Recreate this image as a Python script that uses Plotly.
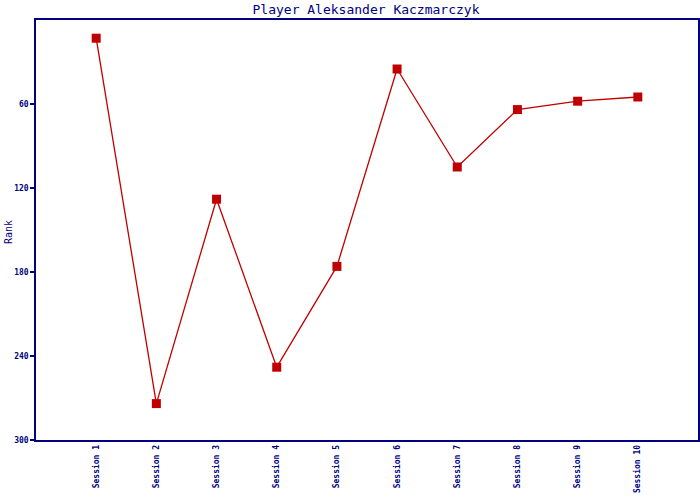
import plotly.graph_objects as go

sessions = ["Session 1", "Session 2", "Session 3", "Session 4", "Session 5",
            "Session 6", "Session 7", "Session 8", "Session 9", "Session 10"]
ranks = [13, 274, 128, 248, 176, 35, 105, 64, 58, 55]
y_ticks = [60, 120, 180, 240, 300]

navy = "#000080"
red = "#C00000"

fig = go.Figure(go.Scatter(
    x=sessions, y=ranks, mode="lines+markers",
    line=dict(color=red, width=1.3),
    marker=dict(symbol="square", size=9, color=red),
))

L, R, T, B = 36, 2, 20, 60
fig.update_layout(
    width=700, height=500,
    margin=dict(l=L, r=R, t=T, b=B, autoexpand=False),
    paper_bgcolor="white", plot_bgcolor="white",
    showlegend=False,
    font=dict(family="DejaVu Sans Mono", color=navy, size=8),
    title=dict(text="Player Aleksander Kaczmarczyk", x=366 / 700, xanchor="center",
               xref="container", yref="container",
               y=1 - 9 / 500, yanchor="middle",
               font=dict(family="DejaVu Sans Mono", size=13, color=navy)),
    xaxis=dict(type="category", range=[-1, 10], showgrid=False, zeroline=False,
               automargin=False,
               showline=True, linecolor=navy, linewidth=1.5, mirror=True,
               ticks="", tickangle=-90,
               tickfont=dict(size=8, color=navy, weight="bold")),
    yaxis=dict(range=[300, 0], tickvals=y_ticks, showgrid=False, zeroline=False,
               automargin=False,
               showline=True, linecolor=navy, linewidth=1.5, mirror=True,
               ticks="outside", ticklen=4, tickcolor=navy, tickwidth=1.5,
               tickfont=dict(size=8, color=navy, weight="bold")),
    annotations=[dict(text="Rank", textangle=-90, xref="paper", yref="paper",
                      x=(8 - L) / (700 - L - R), y=(500 - B - 232) / (500 - T - B),
                      xanchor="center", yanchor="middle", showarrow=False,
                      font=dict(size=10, color=navy))],
)

fig.write_html(
    "out.html",
    config={"displayModeBar": False},
    post_script="document.body.style.margin='0';document.body.style.overflow='hidden';",
)
